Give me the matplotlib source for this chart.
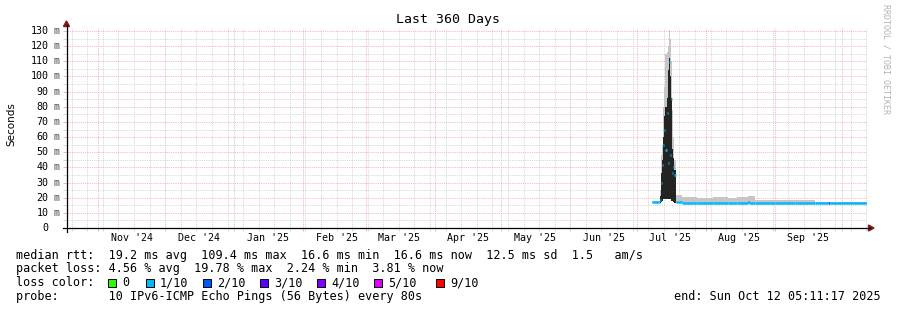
import numpy as np
import pandas as pd
import matplotlib
matplotlib.use("Agg")
import matplotlib.pyplot as plt
import matplotlib.dates as mdates
from matplotlib.ticker import MultipleLocator
from matplotlib.patches import Polygon, Rectangle
from matplotlib.lines import Line2D

W, H = 897, 310
MONO = "DejaVu Sans Mono"

# end of the 360 day window
end_time = "2025-10-12 05:11:17"

# rrd style samples, each value holds until the next stamp
sample_times = [
    "2025-07-07 18:00", "2025-07-10 18:00", "2025-07-11 06:00", "2025-07-11 18:00",
    "2025-07-12 06:00", "2025-07-12 18:00", "2025-07-13 06:00", "2025-07-13 18:00",
    "2025-07-14 06:00", "2025-07-14 18:00", "2025-07-15 06:00", "2025-07-15 18:00",
    "2025-07-16 06:00", "2025-07-16 18:00", "2025-07-17 06:00", "2025-07-17 18:00",
    "2025-07-18 12:00", "2025-07-21 00:00", "2025-07-28 00:00", "2025-08-04 00:00",
    "2025-08-11 00:00", "2025-08-15 00:00", "2025-08-20 00:00", "2025-08-20 12:00",
    "2025-08-23 00:00", "2025-09-01 00:00", "2025-09-10 00:00", "2025-09-19 00:00",
    "2025-09-25 00:00", "2025-09-25 12:00", "2025-10-12 05:11",
]
median_ms = [17.0, 17.3, 18.5, 30.0, 41.6, 55.0, 65.0, 51.5, 76.0, 43.0, 109.4, 48.0,
             85.0, 36.0, 40.0, 35.0, 17.0, 16.8, 16.8, 16.8, 16.8, 16.8, 16.9, 16.8,
             16.7, 16.7, 16.7, 16.7, 16.7, 16.7, 16.7]
smoke_lo_ms = [16.6, 16.6, 16.6, 17.0, 18.0, 19.0, 19.0, 19.0, 19.0, 19.0, 19.0, 19.0,
               18.0, 17.5, 17.0, 16.8, 16.6, 16.6, 16.6, 16.6, 16.6, 16.6, 16.6, 16.6,
               16.6, 16.6, 16.6, 16.6, 16.6, 16.6, 16.6]
smoke_dark_ms = [16.6, 16.6, 21.0, 36.0, 45.0, 60.0, 74.0, 80.0, 86.0, 104.0, 112.0, 100.0,
                 86.0, 52.0, 46.0, 38.0, 16.6, 16.6, 16.6, 16.6, 16.6, 16.6, 16.6, 16.6,
                 16.6, 16.6, 16.6, 16.6, 16.6, 16.6, 16.6]
smoke_light_ms = [17.5, 18.0, 25.0, 48.0, 55.0, 80.0, 93.0, 115.0, 116.0, 120.0, 131.0, 125.0,
                  110.0, 78.0, 60.0, 45.0, 21.8, 20.4, 19.8, 20.2, 19.6, 20.6, 20.8, 20.8,
                  18.6, 18.4, 18.2, 17.4, 17.4, 17.4, 17.4]
loss_tenths = [1, 1, 1, 1, 1, 1, 1, 1, 1, 1, 1, 1, 1, 1, 1, 1, 1, 1, 1, 1, 1, 1, 2, 1,
               1, 1, 1, 1, 2, 1, 1]

y_ticks = [10, 20, 30, 40, 50, 60, 70, 80, 90, 100, 110, 120, 130]
month_starts = ["2024-11-01", "2024-12-01", "2025-01-01", "2025-02-01", "2025-03-01",
                "2025-04-01", "2025-05-01", "2025-06-01", "2025-07-01", "2025-08-01",
                "2025-09-01"]
month_labels = ["Nov '24", "Dec '24", "Jan '25", "Feb '25", "Mar '25", "Apr '25",
                "May '25", "Jun '25", "Jul '25", "Aug '25", "Sep '25"]

loss_levels = ["0", "1/10", "2/10", "3/10", "4/10", "5/10", "9/10"]
loss_level_keys = [0, 1, 2, 3, 4, 5, 9]
loss_level_colors = ["#26ff00", "#00b8ff", "#0059ff", "#5e00ff", "#7e00ff", "#dd00ff", "#ff0000"]
loss_color = dict(zip(loss_level_keys, loss_level_colors))

stats_line1 = "median rtt:  19.2 ms avg  109.4 ms max  16.6 ms min  16.6 ms now  12.5 ms sd  1.5   am/s"
stats_line2 = "packet loss: 4.56 % avg  19.78 % max  2.24 % min  3.81 % now"
probe_line = "probe:       10 IPv6-ICMP Echo Pings (56 Bytes) every 80s"
end_line = "end: Sun Oct 12 05:11:17 2025"


def fx(px):
    return px / W


def fy(py):
    return 1 - py / H


L, R, T, B = 65.5, 866.8, 28, 228
fig = plt.figure(figsize=(W / 100, H / 100), dpi=100)
ax = fig.add_axes([fx(L), fy(B), (R - L) / W, (B - T) / H])

t_end = pd.Timestamp(end_time)
t_start = t_end - pd.Timedelta(days=360)
ax.set_xlim(mdates.date2num(t_start), mdates.date2num(t_end))
ax.set_ylim(0, 132)

# grid
ax.xaxis.set_major_locator(mdates.MonthLocator())
ax.xaxis.set_minor_locator(mdates.WeekdayLocator(byweekday=mdates.SU))
ax.yaxis.set_major_locator(MultipleLocator(10))
ax.yaxis.set_minor_locator(MultipleLocator(5))
dot = (0, (1, 1.2))
ax.grid(which="minor", color="#cdcdcd", linestyle=dot, linewidth=0.6)
ax.grid(which="major", color="#f0a4a4", linestyle=dot, linewidth=0.6)
ax.set_axisbelow(True)
ax.tick_params(labelbottom=False, labelleft=False)
ax.tick_params(which="major", length=2, width=0.6, color="#f0a4a4")
ax.tick_params(which="minor", length=2, width=0.6, color="#cdcdcd")
for s in ax.spines.values():
    s.set_visible(False)

# smoke and median
tn = mdates.date2num(pd.to_datetime(sample_times))
ax.fill_between(tn, smoke_lo_ms, smoke_light_ms, step="post", color="#c6c6c6", lw=0, zorder=2)
ax.fill_between(tn, smoke_lo_ms, smoke_dark_ms, step="post", color="#242424", lw=0, zorder=3)
for i in range(len(tn) - 1):
    ax.hlines(median_ms[i], tn[i], tn[i + 1], colors=loss_color[loss_tenths[i]],
              linewidth=1.8, zorder=4, capstyle="butt")

# axis lines and arrows
arrow_col = "#7a1c1c"
fig.add_artist(Line2D([fx(63), fx(870)], [fy(B), fy(B)], color="black", lw=0.9,
                      transform=fig.transFigure))
fig.add_artist(Line2D([fx(66.5), fx(66.5)], [fy(232), fy(25)], color="black", lw=0.9,
                      transform=fig.transFigure))
fig.add_artist(Polygon([(fx(63.5), fy(26.5)), (fx(69.5), fy(26.5)), (fx(66.5), fy(21))],
                       closed=True, color=arrow_col, transform=fig.transFigure))
fig.add_artist(Polygon([(fx(868.5), fy(225)), (fx(868.5), fy(231)), (fx(874), fy(228))],
                       closed=True, color=arrow_col, transform=fig.transFigure))

# y tick labels
ytr = ax.get_yaxis_transform()
for v in y_ticks:
    ax.text((48.5 - L) / (R - L), v, str(v), transform=ytr, ha="right", va="center",
            fontsize=7.2, family=MONO, color="black")
    ax.text((54 - L) / (R - L), v, "m", transform=ytr, ha="left", va="center",
            fontsize=7.2, family=MONO, color="#555555")
ax.text((48.5 - L) / (R - L), 0, "0", transform=ytr, ha="right", va="center",
        fontsize=7.2, family=MONO, color="black")

# month labels centred half a month after the month start
xtr = ax.get_xaxis_transform()
for d, lab in zip(month_starts, month_labels):
    xm = mdates.date2num(pd.Timestamp(d) + pd.Timedelta(days=15))
    ax.text(xm, -(238 - B) / (B - T), lab, transform=xtr, ha="center", va="center",
            fontsize=7.2, family=MONO)

fig.text(fx(447.5), fy(19.5), "Last 360 Days", ha="center", va="center",
         fontsize=9.5, family=MONO)
fig.text(fx(11), fy(124), "Seconds", rotation=90, ha="center", va="center",
         fontsize=7.5, family="DejaVu Sans")
fig.text(fx(886), fy(4), "RRDTOOL / TOBI OETIKER", rotation=-90, ha="center", va="top",
         fontsize=6, family=MONO, color="#b4b4b4")

# legend block
fs = 8.5
fig.text(fx(16), fy(255), stats_line1, ha="left", va="center", fontsize=fs, family=MONO)
fig.text(fx(16), fy(268.5), stats_line2, ha="left", va="center", fontsize=fs, family=MONO)
fig.text(fx(16), fy(282.5), "loss color:", ha="left", va="center", fontsize=fs, family=MONO)
box_x = [108, 145.5, 203, 260, 317, 374, 435.5]
for bx, lab, col in zip(box_x, loss_levels, loss_level_colors):
    fig.add_artist(Rectangle((fx(bx), fy(286.5)), 8 / W, 8 / H, facecolor=col,
                             edgecolor="black", lw=0.7, transform=fig.transFigure))
    fig.text(fx(bx + 14.5), fy(282.5), lab, ha="left", va="center", fontsize=fs, family=MONO)
fig.text(fx(16), fy(296.5), probe_line, ha="left", va="center", fontsize=fs, family=MONO)
fig.text(fx(881), fy(296.5), end_line, ha="right", va="center", fontsize=fs, family=MONO)

fig.savefig("out.png", dpi=100)
